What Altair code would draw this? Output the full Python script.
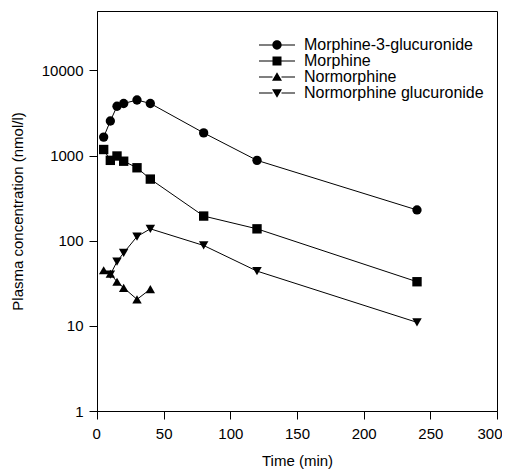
import altair as alt
import pandas as pd

series = ["Morphine-3-glucuronide", "Morphine", "Normorphine", "Normorphine glucuronide"]

m3g_time = [5, 10, 15, 20, 30, 40, 80, 120, 240]
m3g_conc = [1650, 2550, 3800, 4100, 4500, 4100, 1850, 880, 230]

mor_time = [5, 10, 15, 20, 30, 40, 80, 120, 240]
mor_conc = [1180, 880, 990, 860, 720, 530, 195, 138, 33]

nor_time = [5, 10, 15, 20, 30, 40]
nor_conc = [45, 41, 33, 28, 20.5, 27]

ng_time = [10, 15, 20, 30, 40, 80, 120, 240]
ng_conc = [40, 57, 72, 112, 138, 88, 44, 11]

x_ticks = [0, 50, 100, 150, 200, 250, 300]
y_ticks = [1, 10, 100, 1000, 10000]

rows = []
for name, ts, cs in zip(series, [m3g_time, mor_time, nor_time, ng_time],
                        [m3g_conc, mor_conc, nor_conc, ng_conc]):
    for t, c in zip(ts, cs):
        rows.append({"series": name, "time": t, "conc": c})
df = pd.DataFrame(rows)

FONT = "Liberation Sans"

x = alt.X("time:Q", scale=alt.Scale(domain=[0, 300], nice=False),
          axis=alt.Axis(values=x_ticks, title="Time (min)", labelPadding=7, titlePadding=12,
                        labelFlush=True, labelFlushOffset=5))
y = alt.Y("conc:Q", scale=alt.Scale(type="log", domain=[1, 50000], nice=False),
          axis=alt.Axis(values=y_ticks, format="d", title="Plasma concentration (nmol/l)",
                        labelPadding=6, titlePadding=16, labelFlush=False))

marker_shapes = ["circle", "square", "triangle-up", "triangle-down"]
marker_sizes = [87, 90, 115, 115]

# legend glyphs: short line segments either side of a filled marker (units of 5 px)
LINE = "M-3.6,-0.11H-0.9V0.11H-3.6ZM0.9,-0.11H3.6V0.11H0.9Z"
legend_paths = [
    LINE + "M0.93,0A0.93,0.93,0,1,1,-0.93,0A0.93,0.93,0,1,1,0.93,0Z",
    LINE + "M-0.9,-0.9H0.9V0.9H-0.9Z",
    LINE + "M0,-0.95L1,0.75L-1,0.75Z",
    LINE + "M0,0.95L1,-0.75L-1,-0.75Z",
]

lines = alt.Chart(df).mark_line(color="black", strokeWidth=1).encode(
    x=x, y=y, detail="series:N")

points = alt.Chart(df).mark_point(filled=True, color="black", opacity=1).encode(
    x=x, y=y,
    shape=alt.Shape("series:N", scale=alt.Scale(domain=series, range=marker_shapes), legend=None),
    size=alt.Size("series:N", scale=alt.Scale(domain=series, range=marker_sizes), legend=None),
)

legend_layer = alt.Chart(df).transform_filter("false").mark_point(
    filled=True, color="black", strokeWidth=0, opacity=1
).encode(
    x=x, y=y,
    shape=alt.Shape("series:N", scale=alt.Scale(domain=series, range=legend_paths),
                    legend=alt.Legend(title=None, orient="none", legendX=172, legendY=26,
                                      symbolSize=100, symbolFillColor="black",
                                      symbolStrokeWidth=0,
                                      symbolOpacity=1, labelFontSize=16, labelFont=FONT,
                                      labelColor="black", labelOffset=19, rowPadding=-2,
                                      labelLimit=0, padding=0)),
)

chart = alt.layer(lines, points, legend_layer).resolve_scale(
    shape="independent", size="independent"
).properties(
    width=400, height=400,
    autosize=alt.AutoSizeParams(type="none"),
    padding={"left": 89, "top": 3, "right": 5, "bottom": 60},
    background="white",
).configure_view(stroke="black", strokeWidth=1).configure_axis(
    grid=False, domainColor="black", tickColor="black", labelColor="black", titleColor="black",
    labelFont=FONT, titleFont=FONT, labelFontSize=15, titleFontSize=15, titleFontWeight="normal",
    tickSize=8, domainWidth=1, tickWidth=1,
)

chart.save("out.html", embed_options={"renderer": "svg", "actions": False})
